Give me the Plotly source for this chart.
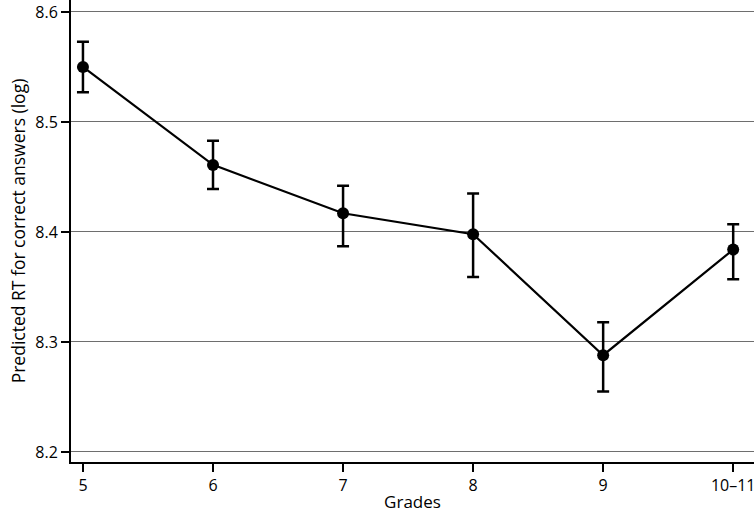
import plotly.graph_objects as go

grades = ["5", "6", "7", "8", "9", "10–11"]
rt = [8.550, 8.461, 8.417, 8.398, 8.288, 8.384]
err_plus = [0.023, 0.022, 0.025, 0.037, 0.030, 0.023]
err_minus = [0.023, 0.022, 0.030, 0.039, 0.033, 0.027]
y_ticks = [8.2, 8.3, 8.4, 8.5, 8.6]

fig = go.Figure()
fig.add_trace(go.Scatter(
    x=list(range(len(grades))), y=rt, mode="lines+markers",
    line=dict(color="black", width=2.2),
    marker=dict(color="black", size=12),
    error_y=dict(type="data", symmetric=False, array=err_plus, arrayminus=err_minus,
                 color="black", thickness=2.5, width=6),
    showlegend=False,
))

font = "Open Sans, Noto Sans, DejaVu Sans, sans-serif"
fig.update_layout(
    width=754, height=513,
    margin=dict(l=71, r=0, t=0, b=51),
    plot_bgcolor="white", paper_bgcolor="white",
    font=dict(family=font, size=16, color="black"),
    xaxis=dict(
        range=[-0.092, 5.16],
        tickmode="array", tickvals=list(range(len(grades))), ticktext=grades,
        showgrid=False, zeroline=False,
        showline=True, linecolor="black", linewidth=2,
        ticks="outside", ticklen=8, tickwidth=1.5, tickcolor="black",
        ticklabeloverflow="allow",
        title=dict(text="Grades", standoff=2, font=dict(size=17)),
    ),
    yaxis=dict(
        range=[8.1909, 8.6109],
        tickmode="array", tickvals=y_ticks, ticktext=[f"{v:.1f}" for v in y_ticks],
        showgrid=True, gridcolor="#6e6e6e", gridwidth=1, zeroline=False,
        showline=True, linecolor="black", linewidth=2,
        ticks="outside", ticklen=8, tickwidth=1.5, tickcolor="black",
        title=dict(text="Predicted RT for correct answers (log)", standoff=5, font=dict(size=17.5)),
    ),
)

fig.write_html("out.html", config={"displayModeBar": False},
               post_script="document.body.style.margin='0';")
